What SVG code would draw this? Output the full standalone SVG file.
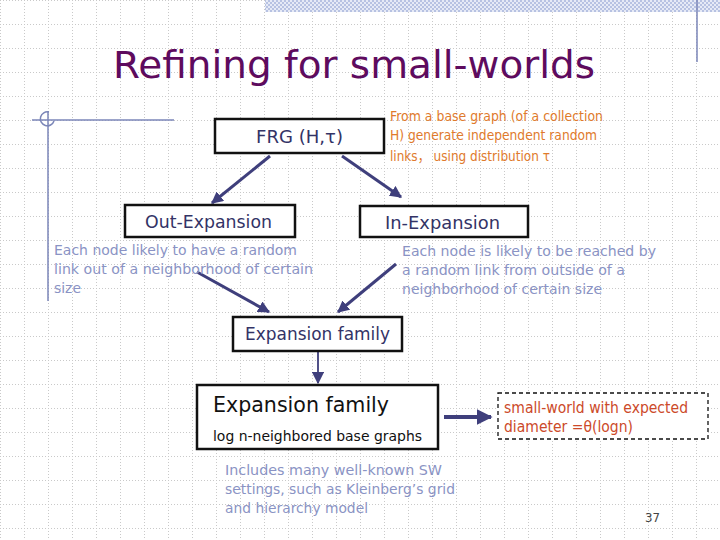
<svg xmlns="http://www.w3.org/2000/svg" width="720" height="540" viewBox="0 0 720 540">
<style>
text{font-family:"DejaVu Sans","Liberation Sans","Noto Sans CJK SC",sans-serif}
.box{fill:#fff;stroke:#111;stroke-width:2.5}
.lbl{fill:#333366;font-size:18px}
.note{fill:#8a93c4;font-size:14.5px}
.org{fill:#e07a2c;font-size:14px}
.red{fill:#cc4a2a;font-size:15px}
.arr{stroke:#3f3f7c;stroke-width:3;fill:none;marker-end:url(#ah)}
.deco{stroke:#7b86b8;stroke-width:1.5;fill:none}
</style>
<defs>
<pattern id="grid" patternUnits="userSpaceOnUse" width="24" height="24">
<path d="M0.5 0V24M0 0.5H24" stroke="#c9c9c9" stroke-width="1" stroke-dasharray="1 2" fill="none"/>
</pattern>
<pattern id="chk" patternUnits="userSpaceOnUse" width="4" height="4">
<rect width="4" height="4" fill="#e6eaf6"/>
<rect width="2" height="2" fill="#b7c2e2"/>
<rect x="2" y="2" width="2" height="2" fill="#b7c2e2"/>
</pattern>
<marker id="ah" viewBox="0 0 10 10" refX="9" refY="5" markerWidth="4" markerHeight="4" orient="auto" markerUnits="strokeWidth">
<path d="M0 0L10 5L0 10z" fill="#3f3f7c"/>
</marker>
<marker id="ah2" viewBox="0 0 10 10" refX="9" refY="5" markerWidth="7" markerHeight="7" orient="auto" markerUnits="strokeWidth">
<path d="M0 0L10 5L0 10z" fill="#3f3f7c"/>
</marker>
</defs>
<rect width="720" height="540" fill="#fff"/>
<rect width="720" height="540" fill="url(#grid)"/>
<rect x="265" y="0" width="455" height="12" fill="url(#chk)"/>
<line x1="697" y1="0" x2="697" y2="62" class="deco"/>
<g id="deco-left">
<line x1="32" y1="120" x2="174" y2="120" class="deco"/>
<line x1="48" y1="111" x2="48" y2="301" class="deco"/>
<path d="M49 112A7 7 0 1 0 54 121" class="deco"/>
</g>
<g id="title"><text x="113" y="78" font-size="37" fill="#5e0b5e" textLength="482" lengthAdjust="spacingAndGlyphs">Refining for small-worlds</text></g>
<g id="connectors">
<line x1="270" y1="156" x2="212" y2="203" class="arr"/>
<line x1="342" y1="156" x2="401" y2="197" class="arr"/>
<line x1="197" y1="272" x2="269" y2="312" class="arr"/>
<line x1="396" y1="264" x2="338" y2="312" class="arr"/>
<line x1="318" y1="351" x2="318" y2="383" stroke="#3f3f7c" stroke-width="1.8" marker-end="url(#ah2)"/>
<line x1="444" y1="417" x2="491" y2="417" stroke="#3f3f7c" stroke-width="4" marker-end="url(#ah)"/>
</g>
<g id="frg">
<rect x="215" y="119" width="169" height="34" class="box"/>
<text x="256" y="143" class="lbl" textLength="87" lengthAdjust="spacingAndGlyphs">FRG (H,τ)</text>
</g>
<g id="frg-note">
<text x="390" y="121" class="org" textLength="213" lengthAdjust="spacingAndGlyphs">From a base graph (of a collection</text>
<text x="390" y="140" class="org" textLength="207" lengthAdjust="spacingAndGlyphs">H) generate independent random</text>
<text x="390" y="161" class="org" textLength="160" lengthAdjust="spacingAndGlyphs">links， using distribution τ</text>
</g>
<g id="out-exp">
<rect x="125" y="205" width="170" height="32" class="box"/>
<text x="145" y="228" class="lbl" textLength="127" lengthAdjust="spacingAndGlyphs">Out-Expansion</text>
</g>
<g id="out-note">
<text x="54" y="255" class="note" textLength="243" lengthAdjust="spacingAndGlyphs">Each node likely to have a random</text>
<text x="54" y="274" class="note" textLength="259" lengthAdjust="spacingAndGlyphs">link out of a neighborhood of certain</text>
<text x="54" y="293" class="note" textLength="27" lengthAdjust="spacingAndGlyphs">size</text>
</g>
<g id="in-exp">
<rect x="360" y="206" width="168" height="31" class="box"/>
<text x="385" y="229" class="lbl" textLength="115" lengthAdjust="spacingAndGlyphs">In-Expansion</text>
</g>
<g id="in-note">
<text x="402" y="256" class="note" textLength="254" lengthAdjust="spacingAndGlyphs">Each node is likely to be reached by</text>
<text x="402" y="275" class="note" textLength="223" lengthAdjust="spacingAndGlyphs">a random link from outside of a</text>
<text x="402" y="294" class="note" textLength="200" lengthAdjust="spacingAndGlyphs">neighborhood of certain size</text>
</g>
<g id="exp-small">
<rect x="233" y="317" width="169" height="34" class="box"/>
<text x="245" y="340" class="lbl" textLength="145" lengthAdjust="spacingAndGlyphs">Expansion family</text>
</g>
<g id="exp-big">
<rect x="197" y="385" width="241" height="64" class="box"/>
<text x="213" y="412" font-size="22" fill="#111" textLength="176" lengthAdjust="spacingAndGlyphs">Expansion family</text>
<text x="213" y="441" font-size="14" fill="#111" textLength="209" lengthAdjust="spacingAndGlyphs">log n-neighbored base graphs</text>
</g>
<g id="small-world">
<rect x="498" y="393" width="210" height="46" fill="#fff" stroke="#111" stroke-width="1.3" stroke-dasharray="4 3"/>
<text x="504" y="413" class="red" textLength="184" lengthAdjust="spacingAndGlyphs">small-world with expected</text>
<text x="504" y="432" class="red" textLength="129" lengthAdjust="spacingAndGlyphs">diameter =θ(logn)</text>
</g>
<g id="bottom-note">
<text x="225" y="475" class="note" textLength="217" lengthAdjust="spacingAndGlyphs">Includes many well-known SW</text>
<text x="225" y="494" class="note" textLength="230" lengthAdjust="spacingAndGlyphs">settings, such as Kleinberg’s grid</text>
<text x="225" y="513" class="note" textLength="143" lengthAdjust="spacingAndGlyphs">and hierarchy model</text>
</g>
<g id="page"><text x="645" y="522" font-size="13" fill="#444" textLength="15" lengthAdjust="spacingAndGlyphs">37</text></g>
</svg>
